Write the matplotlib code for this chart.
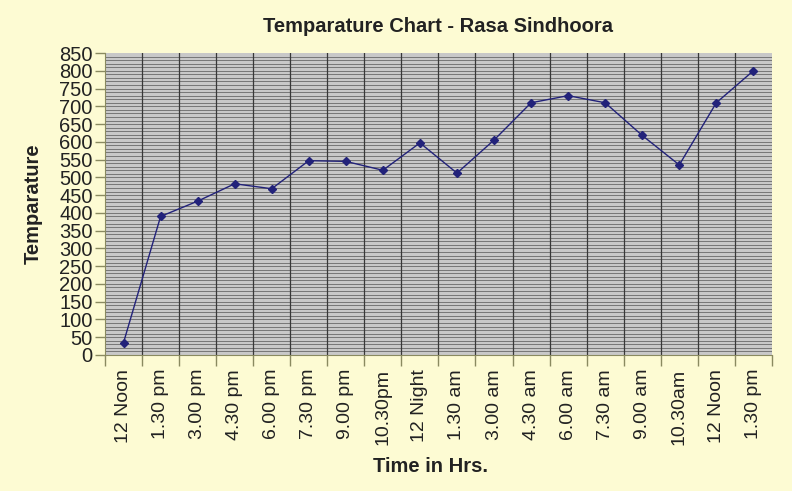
import matplotlib
matplotlib.use('Agg')
import matplotlib.pyplot as plt
from matplotlib.ticker import MultipleLocator, FixedLocator

times = ['12 Noon', '1.30 pm', '3.00 pm', '4.30 pm', '6.00 pm', '7.30 pm',
         '9.00 pm', '10.30pm', '12 Night', '1.30 am', '3.00 am', '4.30 am',
         '6.00 am', '7.30 am', '9.00 am', '10.30am', '12 Noon', '1.30 pm']
temps = [35, 390, 433, 482, 468, 547, 545, 520, 597, 512, 605, 710,
         730, 710, 618, 535, 710, 800]

plt.rcParams['font.family'] = ['Liberation Sans', 'DejaVu Sans']

bg = '#fdfbd3'
fig = plt.figure(figsize=(7.92, 4.91), dpi=100, facecolor=bg)
ax = fig.add_axes([0.1326, 0.277, 0.842, 0.615])
ax.set_facecolor('#c8c8c8')

x = list(range(len(times)))
ax.set_xlim(-0.5, len(times) - 0.5)
ax.set_ylim(0, 850)

# dense horizontal grid every 10
for v in range(10, 850, 10):
    ax.axhline(v, color='#767676', lw=0.7, zorder=1)
for k in range(1, len(times)):
    ax.axvline(k - 0.5, color='#383838', lw=0.9, zorder=1)

ax.plot(x, temps, color='#22227a', lw=1.0, marker='D', markersize=4.5, zorder=3)

ax.yaxis.set_major_locator(MultipleLocator(50))
ax.tick_params(axis='y', labelsize=14.5, length=7, width=1, color='#8a8a60',
               direction='out', pad=2, labelcolor='#222222')
ax.xaxis.set_major_locator(FixedLocator([k - 0.5 for k in range(len(times) + 1)]))
ax.xaxis.set_major_formatter(plt.NullFormatter())
ax.xaxis.set_minor_locator(FixedLocator(x))
ax.set_xticklabels(times, minor=True, rotation=90, fontsize=14, color='#222222')
ax.tick_params(axis='x', which='major', length=8, width=1, color='#8a8a60')
ax.tick_params(axis='x', which='minor', length=0, pad=10)

for side in ['top', 'right']:
    ax.spines[side].set_visible(False)
ax.spines['left'].set_color('#8a8a60')
ax.spines['bottom'].set_color('#8a8a60')

ax.set_title('Temparature Chart - Rasa Sindhoora', fontsize=14.5, fontweight='bold',
             color='#222222', pad=15)
ax.set_ylabel('Temparature', fontsize=14.5, fontweight='bold', color='#222222', labelpad=12)
fig.text(0.543, 0.05, 'Time in Hrs.', ha='center', va='center', fontsize=14.5,
         fontweight='bold', color='#222222')

fig.savefig('out.png', dpi=100, facecolor=bg)
